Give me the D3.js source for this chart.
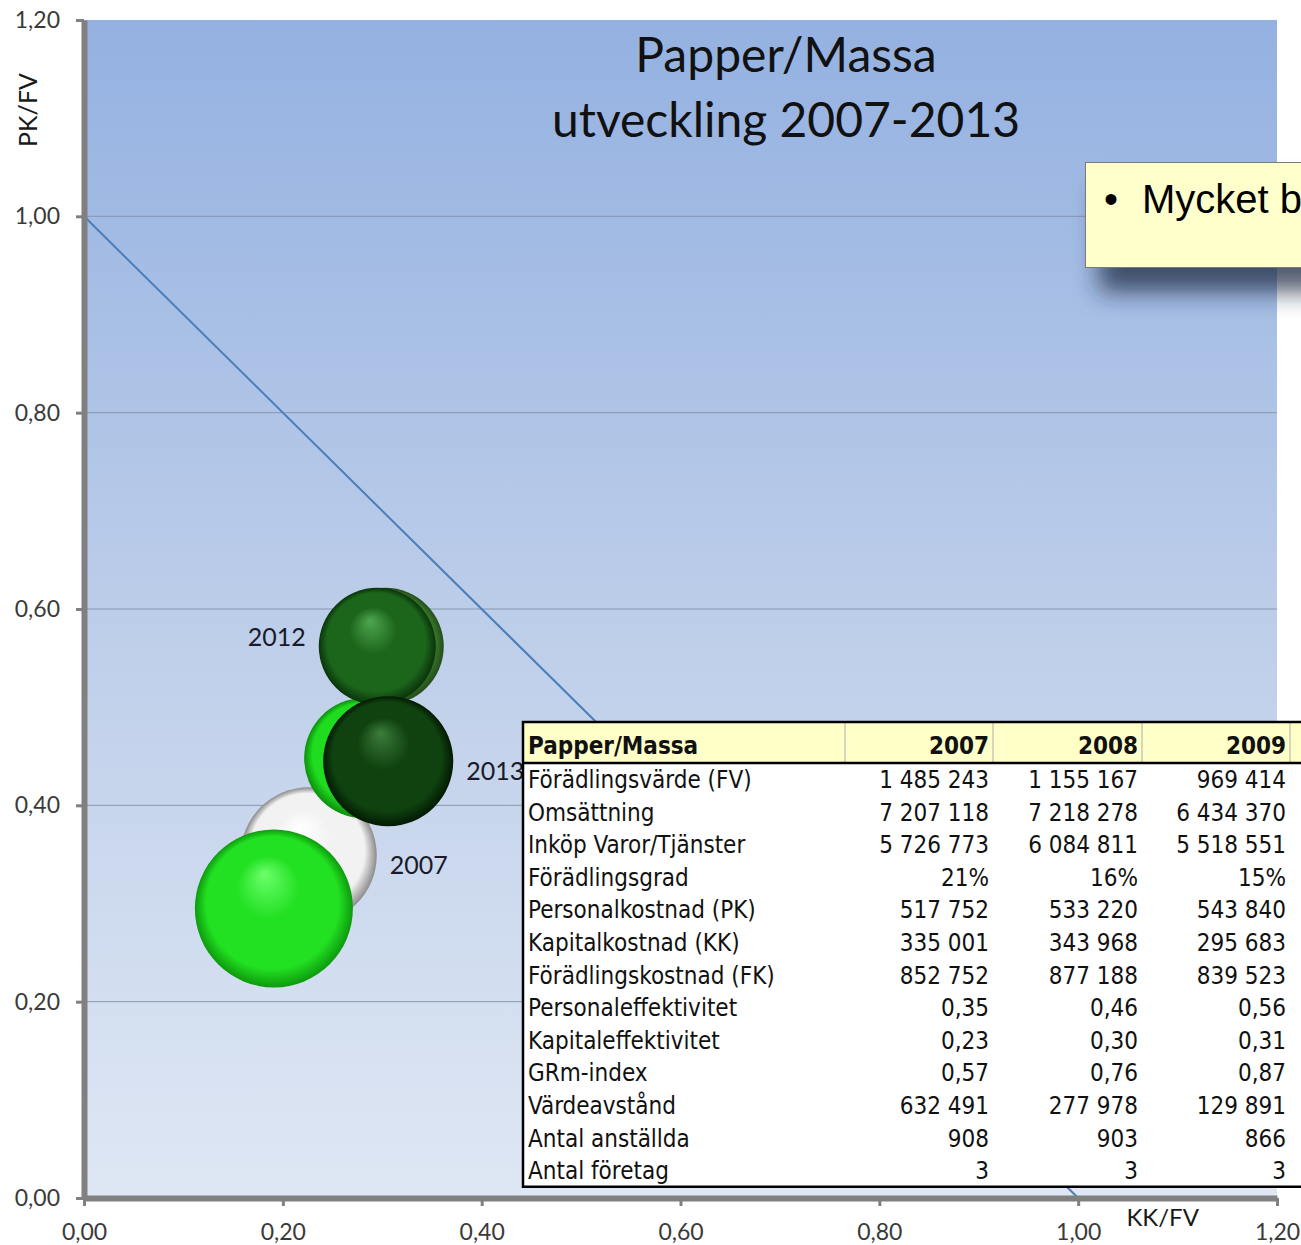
<!DOCTYPE html>
<html>
<head>
<meta charset="utf-8">
<script src="https://cdn.jsdelivr.net/npm/d3@7"></script>
<style>
  body { margin: 0; background: #fff; }
  svg { display: block; }
  .axis text { font-family: Lato, "Open Sans", sans-serif; font-size: 23px; fill: #3a3a3a; }
  .tbl text { font-family: "DejaVu Sans Condensed", "DejaVu Sans", sans-serif; font-size: 24px; fill: #111; }
</style>
</head>
<body>
<svg id="chart"></svg>
<script>
// Bubbles (KK/FV on x, PK/FV on y)
const bubbleYears = ['2007', '2008', '2009', '2010', '2012', '2013'];
const kkfv = [0.226, 0.282, 0.303, 0.191, 0.295, 0.306];
const pkfv = [0.349, 0.448, 0.562, 0.295, 0.562, 0.445];
const bubbleSize = [46, 36, 34, 62, 34, 42];
const labelledYears = ['2007', '2012', '2013'];

const axisTicks = [0, 0.2, 0.4, 0.6, 0.8, 1.0, 1.2];
const refLine = [[0, 1], [1, 0]];

// Table
const tableTitle = 'Papper/Massa';
const tableYears = ['2007', '2008', '2009'];
const rowLabels = [
  'Förädlingsvärde (FV)', 'Omsättning', 'Inköp Varor/Tjänster', 'Förädlingsgrad',
  'Personalkostnad (PK)', 'Kapitalkostnad (KK)', 'Förädlingskostnad (FK)',
  'Personaleffektivitet', 'Kapitaleffektivitet', 'GRm-index', 'Värdeavstånd',
  'Antal anställda', 'Antal företag'
];
const rowKinds = ['int', 'int', 'int', 'pct', 'int', 'int', 'int', 'dec', 'dec', 'dec', 'int', 'int', 'int'];
const col2007 = [1485243, 7207118, 5726773, 0.21, 517752, 335001, 852752, 0.35, 0.23, 0.57, 632491, 908, 3];
const col2008 = [1155167, 7218278, 6084811, 0.16, 533220, 343968, 877188, 0.46, 0.30, 0.76, 277978, 903, 3];
const col2009 = [969414, 6434370, 5518551, 0.15, 543840, 295683, 839523, 0.56, 0.31, 0.87, 129891, 866, 3];

const W = 1301, H = 1245;
const sv = d3.formatLocale({decimal: ',', thousands: ' ', grouping: [3], currency: ['', ' kr']});
const fmt = {int: sv.format(',d'), pct: sv.format('.0%'), dec: sv.format('.2f')};

const svg = d3.select('#chart').attr('width', W).attr('height', H);
const defs = svg.append('defs');

const x = d3.scaleLinear().domain([0, 1.2]).range([84, 1277]);
const y = d3.scaleLinear().domain([0, 1.2]).range([1198, 20]);
const r = d3.scaleSqrt().domain([0, 62]).range([0, 79]);

// plot background
const bg = defs.append('linearGradient').attr('id', 'bg')
  .attr('x1', 0).attr('y1', 0).attr('x2', 0).attr('y2', 1);
bg.append('stop').attr('offset', '0%').attr('stop-color', '#94b1e1');
bg.append('stop').attr('offset', '55%').attr('stop-color', '#c0d0ea');
bg.append('stop').attr('offset', '100%').attr('stop-color', '#dfe7f4');

svg.append('rect')
  .attr('x', x(0)).attr('y', y(1.2))
  .attr('width', x(1.2) - x(0)).attr('height', y(0) - y(1.2))
  .attr('fill', 'url(#bg)');

// gridlines
svg.append('g').selectAll('line')
  .data(axisTicks.filter(d => d > 0 && d < 1.2))
  .enter().append('line')
    .attr('x1', x(0)).attr('x2', x(1.2))
    .attr('y1', d => y(d)).attr('y2', d => y(d))
    .attr('stroke', '#8797ad').attr('stroke-width', 1);

// title
const title = svg.append('text')
  .attr('text-anchor', 'middle')
  .style('font-family', 'Lato, "Open Sans", sans-serif')
  .style('font-size', '48px').style('fill', '#111');
title.append('tspan').attr('x', 786).attr('y', 72).text('Papper/Massa');
title.append('tspan').attr('x', 786).attr('y', 137).text('utveckling 2007-2013');

// diagonal reference line
svg.append('path')
  .datum(refLine)
  .attr('d', d3.line().x(d => x(d[0])).y(d => y(d[1])))
  .attr('stroke', '#4a7ebb').attr('stroke-width', 2).attr('fill', 'none');

// sphere shading
const palette = {
  '2007': ['#ffffff', '#f2f2f2', '#8c8c8c'],
  '2008': ['#66ff66', '#1fdc1f', '#0c8f0c'],
  '2009': ['#7fb86f', '#3f7f30', '#234d1a'],
  '2010': ['#6bff6b', '#22e022', '#0d9a0d'],
  '2012': ['#4fa64f', '#1c661c', '#0a340a'],
  '2013': ['#3c7c3c', '#0f420f', '#031a03']
};
Object.keys(palette).forEach(k => {
  const g = defs.append('radialGradient').attr('id', 'ball' + k)
    .attr('cx', '50%').attr('cy', '50%').attr('r', '50%')
    .attr('fx', '44%').attr('fy', '28%');
  g.append('stop').attr('offset', '0%').attr('stop-color', palette[k][0]);
  g.append('stop').attr('offset', '40%').attr('stop-color', palette[k][1]);
  g.append('stop').attr('offset', '84%').attr('stop-color', palette[k][1]);
  g.append('stop').attr('offset', '100%').attr('stop-color', palette[k][2]);
});

const bubbles = bubbleYears.map((yr, i) => ({year: yr, kk: kkfv[i], pk: pkfv[i], size: bubbleSize[i]}));

svg.append('g').selectAll('circle')
  .data(bubbles)
  .enter().append('circle')
    .attr('cx', d => x(d.kk))
    .attr('cy', d => y(d.pk))
    .attr('r', d => r(d.size))
    .attr('fill', d => 'url(#ball' + d.year + ')');

// bubble labels: side (-1 left, 1 right) and baseline shift
const labelPlace = {'2007': [1, 19], '2012': [-1, 0], '2013': [1, 19]};
svg.append('g').selectAll('text')
  .data(bubbles.filter(d => labelledYears.includes(d.year)))
  .enter().append('text')
    .attr('x', d => x(d.kk) + labelPlace[d.year][0] * (r(d.size) + 13))
    .attr('y', d => y(d.pk) + labelPlace[d.year][1])
    .attr('text-anchor', d => labelPlace[d.year][0] > 0 ? 'start' : 'end')
    .style('font-family', 'Lato, "Open Sans", sans-serif')
    .style('font-size', '25px').style('fill', '#1a1a2a')
    .text(d => d.year);

// axes
const yAxis = d3.axisLeft(y).tickValues(axisTicks).tickFormat(fmt.dec)
  .tickSize(8).tickSizeOuter(0).tickPadding(16);
const xAxis = d3.axisBottom(x).tickValues(axisTicks).tickFormat(fmt.dec)
  .tickSize(8).tickSizeOuter(0).tickPadding(18);

const gy = svg.append('g').attr('class', 'axis').attr('transform', `translate(${x(0)},0)`).call(yAxis);
const gx = svg.append('g').attr('class', 'axis').attr('transform', `translate(0,${y(0)})`).call(xAxis);
[gx, gy].forEach(g => {
  g.select('.domain').attr('stroke', '#808080').attr('stroke-width', 6);
  g.selectAll('.tick line').attr('stroke', '#808080').attr('stroke-width', 3);
});

svg.append('text')
  .attr('transform', `translate(37,110) rotate(-90)`)
  .attr('text-anchor', 'middle')
  .style('font-family', 'Lato, "Open Sans", sans-serif')
  .style('font-size', '25px').style('fill', '#1a1a1a')
  .text('PK/FV');

svg.append('text')
  .attr('x', x(1.085)).attr('y', y(0) + 28)
  .attr('text-anchor', 'middle')
  .style('font-family', 'Lato, "Open Sans", sans-serif')
  .style('font-size', '24px').style('fill', '#1a1a1a')
  .text('KK/FV');

// callout note
const shadow = defs.append('filter').attr('id', 'shadow')
  .attr('x', '-30%').attr('y', '-30%').attr('width', '160%').attr('height', '190%');
shadow.append('feDropShadow').attr('dx', 14).attr('dy', 24).attr('stdDeviation', 12)
  .attr('flood-color', '#1b2940').attr('flood-opacity', 0.75);

svg.append('rect')
  .attr('x', 1085.5).attr('y', 162.5).attr('width', 230).attr('height', 105)
  .attr('fill', '#ffffcc').attr('stroke', '#7a7a7a').attr('stroke-width', 1)
  .attr('filter', 'url(#shadow)');
svg.append('text')
  .attr('x', 1104).attr('y', 213)
  .style('font-family', '"Liberation Sans", Arial, sans-serif')
  .style('font-size', '40px').style('fill', '#000')
  .text('•');
svg.append('text')
  .attr('x', 1142).attr('y', 213)
  .style('font-family', '"Liberation Sans", Arial, sans-serif')
  .style('font-size', '40px').style('fill', '#000')
  .text('Mycket b');

// data table
const tx = 523, ty = 722, headH = 41, rowH = 32.6;
const colEdges = [tx, 845, 993, 1142, 1290];
const cols = [col2007, col2008, col2009];
const tbl = svg.append('g').attr('class', 'tbl');

tbl.append('rect')
  .attr('x', tx).attr('y', ty).attr('width', W - tx).attr('height', headH + rowH * rowLabels.length)
  .attr('fill', '#fff');
tbl.append('rect')
  .attr('x', tx).attr('y', ty).attr('width', W - tx).attr('height', headH)
  .attr('fill', '#ffffc8');
tbl.selectAll('.sep')
  .data(colEdges.slice(1))
  .enter().append('line')
    .attr('x1', d => d).attr('x2', d => d)
    .attr('y1', ty).attr('y2', ty + headH)
    .attr('stroke', '#d6d6b8').attr('stroke-width', 2);

tbl.append('text')
  .attr('x', tx + 5).attr('y', ty + 32)
  .style('font-weight', 'bold')
  .text(tableTitle);
tbl.selectAll('.yr')
  .data(tableYears)
  .enter().append('text')
    .attr('x', (d, i) => colEdges[i + 2] - 4)
    .attr('y', ty + 32)
    .attr('text-anchor', 'end')
    .style('font-weight', 'bold')
    .text(d => d);

const rows = tbl.selectAll('.row')
  .data(rowLabels)
  .enter().append('g')
    .attr('transform', (d, i) => `translate(0,${ty + headH + rowH * i})`);
rows.append('text')
  .attr('x', tx + 5).attr('y', 25)
  .text(d => d);
cols.forEach((col, c) => {
  rows.append('text')
    .attr('x', colEdges[c + 2] - 4).attr('y', 25)
    .attr('text-anchor', 'end')
    .text((d, i) => fmt[rowKinds[i]](col[i]));
});

// frame
tbl.append('path')
  .attr('d', `M${W},${ty} H${tx} V${ty + headH + rowH * rowLabels.length} H${W}`)
  .attr('fill', 'none').attr('stroke', '#000').attr('stroke-width', 2.5);
tbl.append('line')
  .attr('x1', tx).attr('x2', W).attr('y1', ty + headH).attr('y2', ty + headH)
  .attr('stroke', '#000').attr('stroke-width', 2.5);
</script>
</body>
</html>
